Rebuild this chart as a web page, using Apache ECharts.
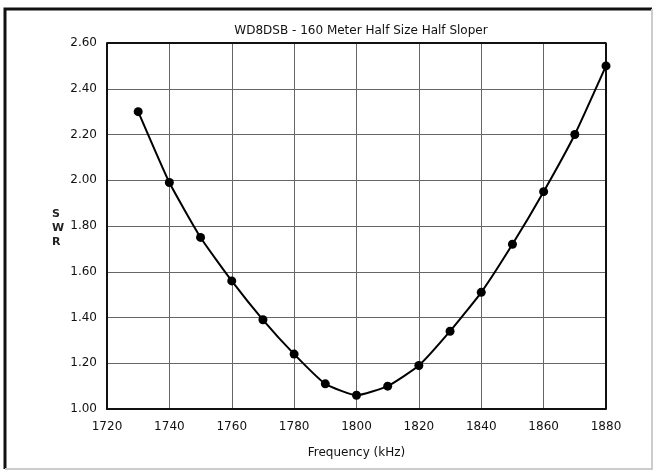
<!DOCTYPE html>
<html>
<head>
<meta charset="utf-8">
<script src="https://cdn.jsdelivr.net/npm/echarts@6/dist/echarts.min.js"></script>
<style>
  html, body { margin: 0; padding: 0; background: #fff; }
  #main { width: 657px; height: 473px; }
</style>
</head>
<body>
<div id="main"></div>
<script>
// 数据
var freqs = [1730, 1740, 1750, 1760, 1770, 1780, 1790, 1800, 1810, 1820, 1830, 1840, 1850, 1860, 1870, 1880];
var swrValues = [2.30, 1.99, 1.75, 1.56, 1.39, 1.24, 1.11, 1.06, 1.10, 1.19, 1.34, 1.51, 1.72, 1.95, 2.20, 2.50];
var chartTitle = "WD8DSB - 160 Meter Half Size Half Sloper";
var xName = "Frequency (kHz)";

var chart = echarts.init(document.getElementById('main'));

var points = [];
for (var i = 0; i < freqs.length; i++) {
    points.push([freqs[i], swrValues[i]]);
}

var font = "DejaVu Sans";

var option = {
    backgroundColor: '#fff',
    animation: false,
    title: {
        text: chartTitle,
        left: 356,
        top: 20,
        textAlign: 'center',
        textStyle: { fontFamily: font, fontSize: 12, fontWeight: 'normal', color: '#111' }
    },
    // 外框：左上粗，右下浅
    graphic: [
        {
            type: 'polyline',
            shape: { points: [[5, 469], [5, 9], [652, 9]] },
            style: { fill: 'none', stroke: '#111', lineWidth: 3 }
        },
        {
            type: 'polyline',
            shape: { points: [[652, 9], [652, 469], [5, 469]] },
            style: { fill: 'none', stroke: '#ccc', lineWidth: 2 }
        },
        {
            type: 'text',
            left: 52,
            top: 207,
            style: { text: 'S\nW\nR', fontFamily: font, fontSize: 11, fontWeight: 'bold', fill: '#222', lineHeight: 14, align: 'center' }
        }
    ],
    grid: { left: 107, right: 51, top: 43, bottom: 64 },
    xAxis: {
        type: 'value',
        min: 1720,
        max: 1880,
        interval: 20,
        name: xName,
        nameLocation: 'middle',
        nameGap: 38,
        nameTextStyle: { fontFamily: font, fontSize: 12, color: '#111' },
        axisLine: { show: true, lineStyle: { color: '#111', width: 2 } },
        axisTick: { show: false },
        axisLabel: {
            fontFamily: font, fontSize: 12, color: '#111', margin: 12,
            formatter: function (v) { return String(v); }
        },
        splitLine: { show: true, lineStyle: { color: '#666', width: 1 } }
    },
    yAxis: {
        type: 'value',
        min: 1.0,
        max: 2.6,
        interval: 0.2,
        axisLine: { show: true, lineStyle: { color: '#111', width: 2 } },
        axisTick: { show: false },
        axisLabel: {
            fontFamily: font, fontSize: 12, color: '#111', margin: 10,
            formatter: function (v) { return v.toFixed(2); }
        },
        splitLine: { show: true, lineStyle: { color: '#666', width: 1 } }
    },
    series: [
        {
            type: 'line',
            data: points,
            smooth: 0.15,
            symbol: 'circle',
            symbolSize: 9,
            itemStyle: { color: '#000' },
            lineStyle: { color: '#000', width: 2 }
        },
        {
            // 上/右边框
            type: 'line',
            data: [[1720, 2.6], [1880, 2.6], [1880, 1.0]],
            symbol: 'none',
            silent: true,
            lineStyle: { color: '#111', width: 2 }
        }
    ]
};

chart.setOption(option);
</script>
</body>
</html>
